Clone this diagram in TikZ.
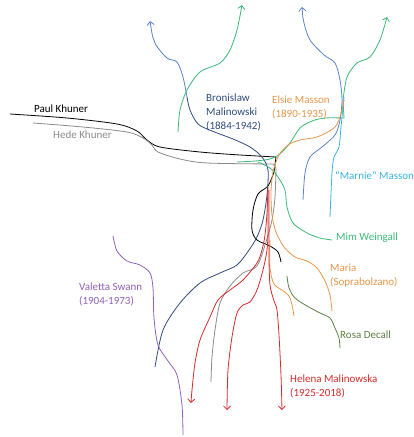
\documentclass[tikz,border=0pt]{standalone}
\usepackage{fontspec}
\setmainfont{Carlito}
\usetikzlibrary{arrows.meta}

\definecolor{navy}{HTML}{2F4B7C}
\definecolor{midblue}{HTML}{5B83C9}
\definecolor{mimgreen}{HTML}{3CB878}
\definecolor{elsieorange}{HTML}{E8954A}
\definecolor{marniecyan}{HTML}{3BB3E0}
\definecolor{helenared}{HTML}{D42A2A}
\definecolor{valettapurple}{HTML}{9060B8}
\definecolor{rosaolive}{HTML}{5E7F45}
\definecolor{hedegray}{HTML}{8A8A8A}

\tikzset{
  lifeline/.style={line width=0.8pt,>={Straight Barb[length=3.5pt,width=7pt]}},
  namelabel/.style={anchor=west,align=left,inner sep=0pt,font=\fontsize{11}{14}\selectfont}
}

\begin{document}
\begin{tikzpicture}[x=1pt,y=-1pt]

    \useasboundingbox (0,0) rectangle (414,437);

    % Paul Khuner (black)
    \draw[lifeline,black] plot[smooth] coordinates {(10,114) (67,118) (117,124) (137,131) (147,140) (160,147) (200,152) (240,155) (276,157)}
        -- plot[smooth] coordinates {(274,172) (268,186) (258,194) (253,210) (252,230) (257,240) (270,246) (278,252) (281,262)};

    % Hede Khuner (gray)
    \draw[lifeline,hedegray] plot[smooth] coordinates {(33,123) (83,127) (127,132) (143,138) (152,145) (158,152) (180,159) (207,163) (273,164)}
        -- plot[smooth] coordinates {(276,168) (275,197) (272,220) (266,242) (257,266) (243,273) (230,286) (220,303) (215,330) (212,357) (211,382)};

    % Bronislaw Malinowski (blue going into navy)
    \draw[lifeline,midblue,<-] plot[smooth] coordinates {(150,21) (155,43) (167,58) (177,62) (183,77) (187,97)};
    \draw[lifeline,navy] plot[smooth] coordinates {(187,97) (190,110) (198,124) (212,131) (233,139) (250,147) (262,157) (268,170) (267,195) (263,220) (257,237) (249,250) (237,265) (220,273) (200,283) (180,303) (163,330) (155,367)};

    % green line up to the top
    \draw[lifeline,mimgreen,->] plot[smooth] coordinates {(178,132) (180,110) (187,90) (200,72) (220,63) (230,50) (237,30) (242,5)};

    % green line through the knot to the right arrow
    \draw[lifeline,mimgreen,->] plot[smooth] coordinates {(237,162) (255,161) (270,159) (280,154) (290,143) (300,128) (312,121) (325,118) (344,118)}
        -- plot[smooth] coordinates {(343,100) (347,77) (357,63) (370,57) (380,40) (387,17)};

    % Mim Weingall (green)
    \draw[lifeline,mimgreen] plot[smooth] coordinates {(258,162) (270,168) (278,177) (285,190) (287,207) (293,223) (307,233) (320,238) (332,240)};

    % blue line on the right
    \draw[lifeline,midblue,<-] plot[smooth] coordinates {(302,7) (304,23) (310,40) (324,55) (335,63) (340,80) (342,100) (340,120) (335,135) (322,147) (310,157) (305,173) (303,200)};

    % Marnie Masson (cyan)
    \draw[lifeline,marniecyan] plot[smooth] coordinates {(344,97) (341,127) (339,147) (334,157) (332,173) (330,217)};

    % Elsie Masson into Maria (orange)
    \draw[lifeline,elsieorange] plot[smooth] coordinates {(344,100) (340,117) (334,128) (317,137) (300,140) (288,145) (279,155) (273,172) (271,192) (272,215) (276,232) (284,247) (295,257) (307,261) (317,268) (325,281) (330,295) (332,311)};
    \draw[lifeline,elsieorange] plot[smooth] coordinates {(270,240) (270,268) (274,284) (282,290) (289,296) (292,305) (294,316)};

    % Rosa Decall (olive)
    \draw[lifeline,rosaolive] plot[smooth] coordinates {(287,276) (289,288) (295,298) (307,306) (320,313) (330,318) (335,328) (339,338) (340,348)};

    % Helena Malinowska (red, three lines)
    \draw[lifeline,helenared,->] plot[smooth] coordinates {(268,187) (267,213) (265,235) (262,250) (257,263) (243,280) (230,290) (218,300) (210,317) (200,340) (195,363) (192,390) (191,403)};
    \draw[lifeline,helenared,->] plot[smooth] coordinates {(268,190) (268,230) (267,250) (263,270) (257,290) (250,302) (243,305) (237,313) (232,337) (228,370) (227,410)};
    \draw[lifeline,helenared,->] plot[smooth] coordinates {(269,190) (269,230) (269,258) (270,285) (274,301) (277,310) (279,335) (281,375) (282,410)};

    % Valetta Swann (purple)
    \draw[lifeline,valettapurple] plot[smooth] coordinates {(113,236) (117,251) (127,261) (140,265) (150,273) (153,288) (154,318) (158,345) (168,361) (177,375) (182,405) (183,435)};

    % Names
    \node[namelabel,black] (paul) at (34,109) {Paul Khuner};
    \node[namelabel,hedegray] (hede) at (53,135) {Hede Khuner};
    \node[namelabel,navy] (bronislaw) at (206,112) {Bronislaw\\Malinowski\\(1884-1942)};
    \node[namelabel,elsieorange] (elsie) at (272,107) {Elsie Masson\\(1890-1935)};
    \node[namelabel,marniecyan] (marnie) at (335,176) {“Marnie” Masson};
    \node[namelabel,mimgreen] (mim) at (336,238) {Mim Weingall};
    \node[namelabel,elsieorange] (maria) at (330,276) {Maria\\(Soprabolzano)};
    \node[namelabel,rosaolive] (rosa) at (340,335) {Rosa Decall};
    \node[namelabel,helenared] (helena) at (290,386) {Helena Malinowska\\(1925-2018)};
    \node[namelabel,valettapurple] (valetta) at (79,294) {Valetta Swann\\(1904-1973)};

\end{tikzpicture}
\end{document}
